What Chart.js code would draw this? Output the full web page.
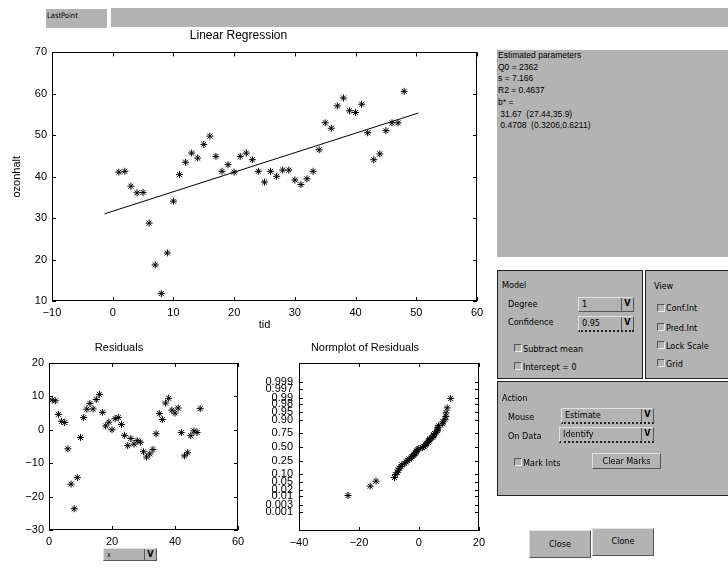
<!DOCTYPE html>
<html>
<head>
<meta charset="utf-8">
<script src="https://cdn.jsdelivr.net/npm/chart.js@4"></script>
<style>
body{margin:0;background:#fff;width:728px;height:568px;overflow:hidden;position:relative;
  font-family:"Liberation Sans Narrow","DejaVu Sans Condensed","Liberation Sans",sans-serif;font-size:9px;color:#000}
canvas{position:absolute}
.gray{position:absolute;background:#b3b3b3}
.panel{position:absolute;background:#b3b3b3;border:1px solid #222;box-sizing:border-box}
.t{position:absolute;white-space:nowrap;line-height:10px}
.dd{position:absolute;background:#b3b3b3;border:1px solid;border-color:#e0e0e0 #555 #555 #e0e0e0;box-sizing:border-box}
.dd span{position:absolute;left:3px;top:1px;line-height:10px}
.dd i{position:absolute;right:0;top:0;width:11px;height:100%;border-left:1px solid #555;font-style:normal;font-weight:bold;text-align:center;line-height:11px;font-size:9px}
.dot{border-bottom:2px dotted #222}
.cb{position:absolute;width:8px;height:8px;border:1px solid;border-color:#555 #eee #eee #555;box-sizing:border-box}
.btn{position:absolute;background:#b3b3b3;border:1px solid;border-color:#e0e0e0 #555 #555 #e0e0e0;box-sizing:border-box;text-align:center}
#params{position:absolute;left:497px;top:50px;width:231px;height:207px;background:#b3b3b3;
  font-family:"Liberation Sans",sans-serif;font-size:8.5px;line-height:11.7px;padding:0 0 0 1px;box-sizing:border-box;white-space:pre}
</style>
</head>
<body>
<div class="gray" style="left:46px;top:9px;width:61px;height:19px"><span class="t" style="left:1px;top:2px;font-size:7.5px">LastPoint</span></div>
<div class="gray" style="left:111px;top:8px;width:617px;height:19px"></div>

<canvas id="main" width="490" height="320" style="left:0;top:22px"></canvas>
<canvas id="resid" width="250" height="225" style="left:0;top:330px"></canvas>
<canvas id="norm" width="240" height="225" style="left:250px;top:330px"></canvas>

<div class="dd" style="left:103px;top:548px;width:54px;height:13px"><span style="font-size:7px">x</span><i>V</i></div>

<div id="params">Estimated parameters
Q0 = 2362
s = 7.166
R2 = 0.4637
b* =
 31.67  (27.44,35.9)
 0.4708  (0.3206,0.6211)</div>

<div class="panel" style="left:497px;top:270px;width:146px;height:109px">
  <span class="t" style="left:4px;top:9px">Model</span>
  <span class="t" style="left:10px;top:28px">Degree</span>
  <span class="t" style="left:10px;top:46px">Confidence</span>
  <div class="dd" style="left:80px;top:26px;width:56px;height:15px"><span>1</span><i>V</i></div>
  <div class="dd dot" style="left:80px;top:45px;width:56px;height:16px"><span>0.95</span><i>V</i></div>
  <div class="cb" style="left:16px;top:73px"></div><span class="t" style="left:25px;top:73px">Subtract mean</span>
  <div class="cb" style="left:16px;top:91px"></div><span class="t" style="left:25px;top:91px">Intercept = 0</span>
</div>
<div class="panel" style="left:645px;top:270px;width:84px;height:109px">
  <span class="t" style="left:8px;top:10px">View</span>
  <div class="cb" style="left:11px;top:33px"></div><span class="t" style="left:20px;top:32px">Conf.Int</span>
  <div class="cb" style="left:11px;top:52px"></div><span class="t" style="left:20px;top:52px">Pred.Int</span>
  <div class="cb" style="left:11px;top:70px"></div><span class="t" style="left:20px;top:70px">Lock Scale</span>
  <div class="cb" style="left:11px;top:88px"></div><span class="t" style="left:20px;top:88px">Grid</span>
</div>
<div class="panel" style="left:497px;top:381px;width:232px;height:115px">
  <span class="t" style="left:4px;top:11px">Action</span>
  <span class="t" style="left:10px;top:30px">Mouse</span>
  <span class="t" style="left:10px;top:49px">On Data</span>
  <div class="dd dot" style="left:63px;top:26px;width:93px;height:16px"><span>Estimate</span><i>V</i></div>
  <div class="dd dot" style="left:61px;top:45px;width:95px;height:16px"><span>Identify</span><i>V</i></div>
  <div class="cb" style="left:16px;top:76px"></div><span class="t" style="left:25px;top:76px">Mark Ints</span>
  <div class="btn" style="left:94px;top:71px;width:69px;height:16px;line-height:14px">Clear Marks</div>
</div>

<div class="btn" style="left:529px;top:530px;width:62px;height:28px;line-height:26px">Close</div>
<div class="btn" style="left:592px;top:528px;width:62px;height:28px;line-height:24px">Clone</div>

<script>
// measurements: time index and ozone height
const tid = [1,2,3,4,5,6,7,8,9,10,11,12,13,14,15,16,17,18,19,20,21,22,23,24,
  25,26,27,28,29,30,31,32,33,34,35,36,37,38,39,40,41,42,43,44,45,46,47,48];
const ozonhalt = [41.1,41.3,37.7,36.1,36.2,28.8,18.7,11.8,21.6,34.1,40.5,43.5,
  45.7,44.5,47.8,49.8,44.9,41.3,42.9,41.1,44.9,45.7,44.1,41.3,38.7,41.3,40.1,41.6,
  41.6,39.2,38.1,39.5,41.3,46.5,53.0,51.7,57.1,59.0,55.9,55.5,57.5,50.6,44.1,45.5,
  51.1,53.0,53.0,60.6];
const residuals = [8.96,8.69,4.62,2.55,2.18,-5.69,-16.27,-23.64,-14.31,-2.28,3.65,
  6.18,7.91,6.24,9.07,10.6,5.23,1.16,2.28,0.01,3.34,3.67,1.6,-1.67,-4.74,-2.61,-4.28,
  -3.25,-3.72,-6.59,-8.16,-7.24,-5.91,-1.18,4.85,3.08,8.01,9.44,5.87,5.0,6.53,-0.84,
  -7.81,-6.89,-1.76,-0.33,-0.8,6.33];
// normal scores for the sorted residuals, (i-0.5)/48
const normZ = [-2.311,-1.863,-1.625,-1.455,-1.318,-1.203,-1.101,-1.010,-0.926,-0.849,
  -0.776,-0.708,-0.643,-0.579,-0.519,-0.460,-0.402,-0.346,-0.291,-0.237,-0.184,-0.131,
  -0.078,-0.026,0.026,0.078,0.131,0.184,0.237,0.291,0.346,0.402,0.460,0.519,0.579,
  0.643,0.708,0.776,0.849,0.926,1.010,1.101,1.203,1.318,1.455,1.625,1.863,2.311];
// fitted coefficients b* and the x span of the fitted line
const coef = [31.67, 0.4708];
const fitSpan = [-1.35, 50.35];
// probability ticks of the normal plot
const probLabels = ['0.001','0.003','0.01','0.02','0.05','0.10','0.25','0.50',
  '0.75','0.90','0.95','0.98','0.99','0.997','0.999'];
const probZ = [-3.090,-2.748,-2.326,-2.054,-1.645,-1.282,-0.674,0,0.674,1.282,
  1.645,2.054,2.326,2.748,3.090];

Chart.defaults.font.family = '"Liberation Sans", Arial, sans-serif';
Chart.defaults.color = '#000';
Chart.defaults.animation = false;

// frame round the plot area with inward ticks on all four sides
const boxTicks = {
  id: 'boxTicks',
  afterDraw(chart) {
    const {ctx, chartArea: a, scales} = chart;
    const len = 4;
    ctx.save();
    ctx.strokeStyle = '#000';
    ctx.lineWidth = 1;
    ctx.strokeRect(Math.round(a.left) + 0.5, Math.round(a.top) + 0.5,
      Math.round(a.right - a.left) - 1, Math.round(a.bottom - a.top) - 1);
    ctx.beginPath();
    scales.x.ticks.forEach(t => {
      const px = Math.round(scales.x.getPixelForValue(t.value)) + 0.5;
      ctx.moveTo(px, a.bottom); ctx.lineTo(px, a.bottom - len);
      ctx.moveTo(px, a.top); ctx.lineTo(px, a.top + len);
    });
    scales.y.ticks.forEach(t => {
      const py = Math.round(scales.y.getPixelForValue(t.value)) + 0.5;
      ctx.moveTo(a.left, py); ctx.lineTo(a.left + len, py);
      ctx.moveTo(a.right, py); ctx.lineTo(a.right - len, py);
    });
    ctx.stroke();
    ctx.restore();
  }
};

const minus = v => String(v).replace('-', '\u2212');

function axis(min, max, step, fit, extra) {
  return Object.assign({
    type: 'linear', min: min, max: max,
    grid: {display: false, drawTicks: false},
    border: {display: false},
    ticks: {stepSize: step, font: {size: 11}, padding: 5, callback: minus},
    afterFit: fit
  }, extra || {});
}

const star = {pointStyle: 'star', pointRadius: 3.5, borderWidth: 1,
  borderColor: '#000', backgroundColor: '#000', showLine: false};

function titleOpts(text, size, top, bottom) {
  return {display: true, text: text, font: {size: size, weight: 'normal'},
    padding: {top: top, bottom: bottom}};
}

const basePlugins = {legend: {display: false}, tooltip: {enabled: false}};

new Chart(document.getElementById('main'), {
  type: 'scatter',
  data: {
    datasets: [
      Object.assign({data: tid.map((x, i) => ({x: x, y: ozonhalt[i]}))}, star),
      {type: 'line', data: fitSpan.map(x => ({x: x, y: coef[0] + coef[1] * x})),
        borderColor: '#000', borderWidth: 1, pointRadius: 0}
    ]
  },
  options: {
    responsive: false,
    layout: {padding: {right: 13}},
    plugins: Object.assign({title: titleOpts('Linear Regression', 12, 6, 10)}, basePlugins),
    scales: {
      x: axis(-10, 60, 10, s => { s.height = 41; },
        {title: {display: true, text: 'tid', font: {size: 11}, padding: {top: 0, bottom: 10}}}),
      y: axis(10, 70, 10, s => { s.width = 52; },
        {title: {display: true, text: 'ozonhalt', font: {size: 11}, padding: {top: 10, bottom: 0}}})
    }
  },
  plugins: [boxTicks]
});

new Chart(document.getElementById('resid'), {
  type: 'scatter',
  data: {datasets: [Object.assign({data: tid.map((x, i) => ({x: x, y: residuals[i]}))}, star)]},
  options: {
    responsive: false,
    layout: {padding: {right: 12}},
    plugins: Object.assign({title: titleOpts('Residuals', 11, 11.4, 8.4)}, basePlugins),
    scales: {
      x: axis(0, 60, 20, s => { s.height = 25; }),
      y: axis(-30, 20, 10, s => { s.width = 49; })
    }
  },
  plugins: [boxTicks]
});

const sortedRes = residuals.slice().sort((a, b) => a - b);

new Chart(document.getElementById('norm'), {
  type: 'scatter',
  data: {datasets: [Object.assign({data: sortedRes.map((r, i) => ({x: r, y: normZ[i]}))}, star)]},
  options: {
    responsive: false,
    layout: {padding: {right: 10}},
    plugins: Object.assign({title: titleOpts('Normplot of Residuals', 11, 11.4, 8.4)}, basePlugins),
    scales: {
      x: axis(-40, 20, 20, s => { s.height = 24; }),
      y: axis(-4, 4, 1, s => { s.width = 49; }, {
        afterBuildTicks: s => { s.ticks = probZ.map(v => ({value: v})); },
        ticks: {autoSkip: false, font: {size: 11}, padding: 6,
          callback: (v, i) => probLabels[i]}
      })
    }
  },
  plugins: [boxTicks]
});
</script>
</body>
</html>
